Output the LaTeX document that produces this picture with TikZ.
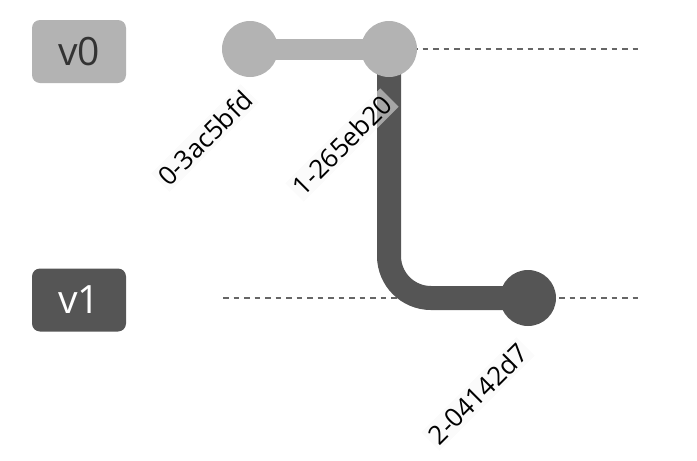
\documentclass[tikz,border=0pt]{standalone}
\usepackage{fontspec}
\setmainfont{Open Sans}
\definecolor{lightc}{HTML}{B3B3B3}
\definecolor{darkc}{HTML}{555555}
\definecolor{dashc}{HTML}{666666}
\definecolor{textd}{HTML}{333333}
\begin{document}
\begin{tikzpicture}[x=1pt,y=-1pt,
  branchbox/.style={rounded corners=8pt, minimum width=94pt, minimum height=63pt, inner sep=0pt, font=\fontsize{39}{39}\selectfont},
  branchline/.style={dashc, line width=2.6pt, dash pattern=on 5.5pt off 5pt},
  commit/.style={circle, minimum size=56pt, inner sep=0pt},
  clabel/.style={rotate=45, fill=white!97!black, fill opacity=0.5, text opacity=1, inner sep=3pt, font=\fontsize{26}{26}\selectfont, text=black}]
\useasboundingbox (0,0) rectangle (697,461);
% branch labels
\node[branchbox, fill=lightc, text=textd] (b0) at (79,51.5) {v0};
\node[branchbox, fill=darkc, text=white] (b1) at (79,300) {v1};
% branch dashed lines
\coordinate (l0s) at (223,49);
\coordinate (l0e) at (638,49);
\coordinate (l1s) at (223,298);
\coordinate (l1e) at (638,298);
\draw[branchline] (l0s) -- (l0e);
\draw[branchline] (l1s) -- (l1e);
% commits positions
\coordinate (p0) at (250,49);
\coordinate (p1) at (389,49);
\coordinate (p2) at (528,298);
% connections
\draw[lightc, line width=21pt] (p0) -- (p1);
\draw[darkc, line width=24pt, rounded corners=42pt] (p1) |- (p2);
% commits
\node[commit, fill=lightc] (c0) at (p0) {};
\node[commit, fill=lightc] (c1) at (p1) {};
\node[commit, fill=darkc] (c2) at (p2) {};
% commit labels
\node[clabel] (t0) at (205,138) {0-3ac5bfd};
\node[clabel] (t1) at (342,145) {1-265eb20};
\node[clabel] (t2) at (478,394) {2-04142d7};
\end{tikzpicture}
\end{document}
